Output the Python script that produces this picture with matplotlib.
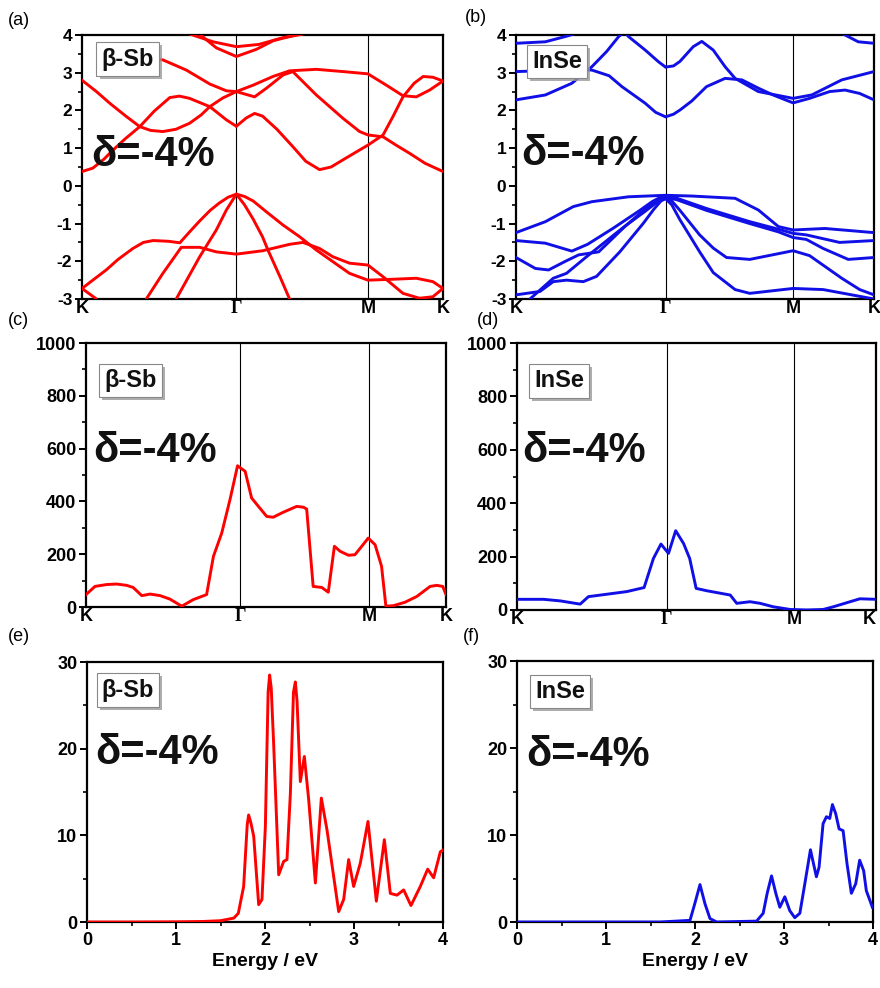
import matplotlib
matplotlib.use("Agg")
import matplotlib.pyplot as plt
import matplotlib.patheffects as pe
from matplotlib.ticker import MultipleLocator

plt.rcParams['font.family'] = ['Liberation Sans', 'DejaVu Sans']
plt.rcParams['font.weight'] = 'bold'
plt.rcParams['axes.unicode_minus'] = False

RED = '#ff0000'
BLUE = '#1010e6'

# ---------------- high-symmetry path positions (fraction of path) ----------
hs_labels = ['K', 'Γ', 'M', 'K']
hs_sb = [0.0, 0.4275, 0.792, 1.0]
hs_in = [0.0, 0.4177, 0.774, 1.0]
hs_sb_ph = [0.0, 0.4278, 0.787, 1.0]
hs_in_ph = [0.0, 0.4174, 0.772, 1.0]

# ---------------- (a) beta-Sb band structure: (k, E) ----------------------
sb_t = [(0.13, 3.42), (0.224, 3.34), (0.289, 3.07), (0.354, 2.70), (0.40, 2.52), (0.4275, 2.50)]
sb_x = [(0.0, 2.80), (0.04, 2.50), (0.077, 2.19), (0.12, 1.86), (0.16, 1.57), (0.19, 1.47),
        (0.224, 1.44), (0.26, 1.50), (0.298, 1.66), (0.33, 1.88), (0.354, 2.10), (0.39, 2.33),
        (0.4275, 2.50)]
sb_y_l = [(0.0, 0.38), (0.03, 0.47), (0.06, 0.70), (0.086, 0.95), (0.12, 1.25), (0.16, 1.57),
          (0.20, 1.98), (0.243, 2.34), (0.27, 2.38), (0.298, 2.32), (0.354, 2.10), (0.40, 1.75),
          (0.4275, 1.58)]
sb_y_r = [(0.4275, 1.58), (0.455, 1.80), (0.478, 1.92), (0.50, 1.85), (0.54, 1.50), (0.584, 1.04),
          (0.62, 0.65), (0.658, 0.43), (0.69, 0.50), (0.723, 0.69), (0.76, 0.90), (0.792, 1.08),
          (0.834, 1.35), (0.861, 1.83), (0.889, 2.36), (0.92, 2.72), (0.945, 2.90), (0.972, 2.88),
          (1.0, 2.78)]
sb_p = [(0.4275, 2.50), (0.474, 2.67), (0.529, 2.90), (0.575, 3.05), (0.649, 3.09), (0.723, 3.03),
        (0.792, 2.97), (0.843, 2.67), (0.889, 2.39), (0.926, 2.36), (0.963, 2.54), (1.0, 2.78)]
sb_q = [(0.4275, 2.50), (0.478, 2.36), (0.511, 2.59), (0.557, 2.94), (0.584, 3.03), (0.649, 2.41),
        (0.723, 1.79), (0.769, 1.44), (0.792, 1.35), (0.834, 1.30), (0.87, 1.08), (0.908, 0.86),
        (0.95, 0.60), (1.0, 0.38)]
sb_u1 = [(0.30, 4.02), (0.363, 3.82), (0.4275, 3.69), (0.49, 3.75), (0.557, 3.93), (0.61, 4.02)]
sb_u2 = [(0.326, 4.02), (0.372, 3.66), (0.4275, 3.43), (0.483, 3.62), (0.53, 3.85), (0.60, 4.02)]
sb_v1_l = [(0.0, -2.72), (0.03, -2.50), (0.067, -2.23), (0.10, -1.95), (0.141, -1.66), (0.17, -1.50),
           (0.197, -1.45), (0.24, -1.47), (0.271, -1.51), (0.30, -1.20), (0.326, -0.93),
           (0.355, -0.65), (0.381, -0.45), (0.405, -0.30), (0.4275, -0.22)]
sb_v1_r = [(0.4275, -0.22), (0.45, -0.28), (0.474, -0.40), (0.511, -0.69), (0.557, -1.04),
           (0.603, -1.35), (0.649, -1.70), (0.695, -2.01), (0.741, -2.32), (0.792, -2.50),
           (0.852, -2.48), (0.926, -2.45), (0.972, -2.54), (1.0, -2.72)]
sb_v2 = [(0.178, -3.0), (0.224, -2.32), (0.275, -1.63), (0.326, -1.63), (0.372, -1.75),
         (0.4275, -1.81), (0.501, -1.72), (0.575, -1.55), (0.612, -1.50), (0.658, -1.66),
         (0.695, -1.88), (0.741, -2.05), (0.792, -2.10), (0.834, -2.41), (0.889, -2.85),
         (0.935, -2.98), (0.972, -2.94), (1.0, -2.72)]
sb_v4 = [(0.4275, -0.22), (0.45, -0.50), (0.474, -0.88), (0.50, -1.35), (0.515, -1.70),
         (0.548, -2.40), (0.575, -3.0)]
sb_v5 = [(0.4275, -0.22), (0.40, -0.64), (0.372, -1.17), (0.326, -1.88), (0.261, -3.0)]
sb_v7 = [(0.0, -2.72), (0.04, -3.0)]
sb_bands = [sb_t, sb_x, sb_y_l, sb_y_r, sb_p, sb_q, sb_u1, sb_u2, sb_v1_l, sb_v1_r, sb_v2,
            sb_v4, sb_v5, sb_v7]

# ---------------- (b) InSe band structure: (k, E) --------------------------
in_c4_l = [(0.0, 3.78), (0.082, 3.82), (0.138, 3.96), (0.16, 4.02)]
in_c4_r = [(0.915, 4.02), (0.956, 3.82), (1.0, 3.78)]
in_c1_l = [(0.0, 2.28), (0.082, 2.41), (0.156, 2.72), (0.212, 3.16), (0.253, 3.56), (0.287, 3.96),
           (0.295, 4.02)]
in_c3_l = [(0.0, 3.03), (0.067, 3.05), (0.141, 3.08), (0.212, 3.07), (0.26, 2.92), (0.296, 2.63),
           (0.33, 2.40), (0.361, 2.19), (0.39, 1.95), (0.4177, 1.83)]
in_c2_l = [(0.309, 4.02), (0.314, 3.96), (0.361, 3.60), (0.398, 3.29), (0.4177, 3.15)]
in_c2_r = [(0.4177, 3.15), (0.44, 3.18), (0.458, 3.30), (0.495, 3.69), (0.519, 3.83), (0.551, 3.60),
           (0.584, 3.16), (0.612, 2.85), (0.677, 2.50), (0.774, 2.32), (0.826, 2.41), (0.910, 2.81),
           (1.0, 3.03)]
in_c1_r = [(0.4177, 1.83), (0.44, 1.90), (0.458, 2.01), (0.491, 2.25), (0.532, 2.63), (0.584, 2.85),
           (0.631, 2.81), (0.677, 2.59), (0.718, 2.41), (0.774, 2.20), (0.82, 2.32), (0.876, 2.50),
           (0.919, 2.54), (0.96, 2.45), (1.0, 2.28)]
in_v1 = [(0.0, -1.24), (0.082, -0.95), (0.16, -0.55), (0.212, -0.42), (0.314, -0.29),
         (0.4177, -0.25), (0.491, -0.27), (0.612, -0.33), (0.677, -0.64), (0.733, -1.08),
         (0.774, -1.17), (0.863, -1.13), (1.0, -1.24)]
in_v2_l = [(0.0, -1.45), (0.082, -1.52), (0.156, -1.73), (0.20, -1.55), (0.272, -1.12),
           (0.346, -0.65), (0.38, -0.42), (0.40, -0.32), (0.4177, -0.28)]
in_v3_l = [(0.0, -1.90), (0.054, -2.19), (0.091, -2.23), (0.138, -2.0), (0.175, -1.83),
           (0.231, -1.75), (0.305, -1.07), (0.35, -0.70), (0.38, -0.48), (0.40, -0.36),
           (0.4177, -0.32)]
in_v4_l = [(0.0, -2.89), (0.067, -2.80), (0.104, -2.54), (0.141, -2.50), (0.188, -2.54),
           (0.225, -2.40), (0.290, -1.75), (0.355, -1.00), (0.385, -0.62), (0.405, -0.40),
           (0.4177, -0.34)]
in_v5_l = [(0.039, -3.0), (0.104, -2.45), (0.141, -2.32), (0.197, -1.88), (0.30, -1.10),
           (0.36, -0.68), (0.39, -0.46), (0.4177, -0.32)]
in_v2_r = [(0.4177, -0.28), (0.45, -0.33), (0.532, -0.60), (0.653, -0.95), (0.733, -1.15),
           (0.774, -1.26), (0.811, -1.30), (0.904, -1.50), (1.0, -1.45)]
in_v3_r = [(0.4177, -0.30), (0.45, -0.37), (0.532, -0.65), (0.653, -1.0), (0.733, -1.22),
           (0.774, -1.37), (0.811, -1.42), (0.858, -1.66), (0.928, -1.95), (1.0, -1.90)]
in_v4_r = [(0.4177, -0.32), (0.435, -0.40), (0.458, -0.65), (0.513, -1.30), (0.551, -1.65),
           (0.588, -1.90), (0.653, -1.95), (0.774, -1.72), (0.82, -1.85), (0.91, -2.45),
           (0.96, -2.75), (1.0, -2.89)]
in_v5_r = [(0.4177, -0.34), (0.435, -0.50), (0.458, -0.90), (0.513, -1.75), (0.551, -2.30),
           (0.612, -2.75), (0.653, -2.85), (0.774, -2.72), (0.858, -2.75), (0.932, -2.88),
           (1.0, -3.0)]
in_bands = [in_c4_l, in_c4_r, in_c1_l, in_c3_l, in_c2_l, in_c2_r, in_c1_r, in_v1, in_v2_l,
            in_v3_l, in_v4_l, in_v5_l, in_v2_r, in_v3_r, in_v4_r, in_v5_r]

# ---------------- (c)/(d) phonon-limited quantity along path ----------------
sb_ph_k = [0.0, 0.025, 0.057, 0.085, 0.113, 0.131, 0.155, 0.178, 0.206, 0.233, 0.266, 0.298,
           0.335, 0.354, 0.377, 0.400, 0.421, 0.442, 0.460, 0.479, 0.502, 0.520, 0.548, 0.585,
           0.604, 0.613, 0.631, 0.655, 0.673, 0.690, 0.706, 0.729, 0.747, 0.766, 0.784, 0.803,
           0.821, 0.833, 0.854, 0.886, 0.919, 0.956, 0.974, 0.991, 1.0]
sb_ph_v = [47, 78, 85, 87, 82, 74, 43, 49, 43, 30, 3, 28, 47, 192, 280, 407, 535, 514, 413, 381,
           343, 340, 359, 381, 378, 371, 78, 74, 56, 230, 211, 196, 198, 230, 261, 236, 154, 3, 5,
           18, 40, 78, 82, 78, 47]
in_ph_k = [0.0, 0.074, 0.121, 0.176, 0.199, 0.250, 0.306, 0.354, 0.380, 0.401, 0.422, 0.442,
           0.464, 0.481, 0.499, 0.529, 0.594, 0.612, 0.649, 0.677, 0.714, 0.761, 0.807, 0.853,
           0.881, 0.918, 0.955, 1.0]
in_ph_v = [40, 40, 34, 22, 50, 59, 69, 84, 193, 247, 212, 297, 249, 193, 81, 72, 56, 25, 31, 25,
           12, 2, 0, 2, 12, 27, 42, 40]

# ---------------- (e)/(f) absorption vs energy ------------------------------
sb_abs_E = [0, 0.5, 1.0, 1.3, 1.5, 1.65, 1.70, 1.76, 1.80, 1.816, 1.84, 1.873, 1.929, 1.966,
            2.004, 2.035, 2.052, 2.07, 2.097, 2.154, 2.21, 2.247, 2.285, 2.32, 2.341, 2.36,
            2.397, 2.442, 2.491, 2.566, 2.633, 2.697, 2.828, 2.884, 2.94, 2.996, 3.071, 3.157,
            3.251, 3.341, 3.408, 3.483, 3.558, 3.64, 3.745, 3.828, 3.895, 3.97, 4.0]
sb_abs_v = [0, 0, 0.02, 0.06, 0.15, 0.45, 1.0, 4.1, 11.2, 12.35, 11.5, 9.9, 2.0, 2.6,
            11.0, 26.5, 28.5, 27.0, 20.6, 5.45, 7.0, 7.2, 14.8, 26.5, 27.7, 25.5,
            16.2, 19.1, 14.1, 4.5, 14.3, 10.6, 1.2, 2.6, 7.2, 4.1, 6.8, 11.6,
            2.4, 9.5, 3.3, 3.1, 3.7, 1.9, 4.1, 6.1, 5.1, 8.1, 8.3]
in_abs_E = [0, 1.0, 1.607, 1.944, 2.0, 2.056, 2.112, 2.168, 2.243, 2.692, 2.766, 2.811, 2.86,
            2.908, 2.953, 3.009, 3.065, 3.121, 3.178, 3.234, 3.297, 3.364, 3.394, 3.439, 3.477,
            3.514, 3.544, 3.581, 3.619, 3.664, 3.708, 3.757, 3.806, 3.85, 3.895, 3.925, 3.993]
in_abs_v = [0, 0, 0, 0.19, 2.2, 4.3, 2.1, 0.4, 0, 0.1, 1.0, 3.3, 5.3, 3.3, 1.7, 2.9, 1.3, 0.5,
            1.0, 4.4, 8.3, 5.2, 6.3, 11.3, 12.1, 11.9, 13.5, 12.45, 10.7, 10.5, 6.7, 3.3, 4.4,
            7.1, 5.9, 3.6, 1.7]

materials = ['β-Sb', 'InSe']
strain_text = 'δ=-4%'
panel_tags = ['(a)', '(b)', '(c)', '(d)', '(e)', '(f)']

W, H = 880, 988
fig = plt.figure(figsize=(W / 100, H / 100), dpi=100)


def px_axes(l, t, r, b):
    return fig.add_axes([l / W, 1 - b / H, (r - l) / W, (b - t) / H])


ax_a = px_axes(82, 35, 443, 299)
ax_b = px_axes(516, 35, 874, 299)
ax_c = px_axes(86, 343, 446, 607)
ax_d = px_axes(517, 343, 876, 610)
ax_e = px_axes(87, 662, 443, 922)
ax_f = px_axes(517, 661, 873, 922)


def style(ax, fs=12):
    for s in ax.spines.values():
        s.set_linewidth(1.6)
    ax.tick_params(which='major', direction='out', length=5, width=1.4, labelsize=fs, pad=2)
    ax.tick_params(which='minor', direction='out', length=3, width=1.2)
    for lab in ax.get_yticklabels() + ax.get_xticklabels():
        lab.set_fontweight('bold')


def path_axis(ax, hs, fs=13, last_right=False):
    ax.set_xlim(0, 1)
    ax.set_xticks(hs)
    ax.set_xticklabels(hs_labels, fontsize=fs, fontweight='bold')
    ax.tick_params(axis='x', which='major', length=0, pad=1)
    labs = ax.get_xticklabels()
    labs[1].set_fontfamily('Liberation Serif')
    if last_right:
        labs[-1].set_horizontalalignment('right')
    for xv in hs[1:3]:
        ax.axvline(xv, color='black', lw=0.8, zorder=1)


def tag_box(ax, x, y, name):
    t = ax.text(x, y, name, transform=ax.transAxes, ha='center', va='center', fontsize=17,
                fontweight='bold', color='#111111', zorder=7,
                bbox=dict(boxstyle='square,pad=0.22', fc='white', ec='#888888', lw=0.8))
    t.get_bbox_patch().set_path_effects(
        [pe.SimplePatchShadow(offset=(2.2, -2.2), shadow_rgbFace='#9a9a9a', alpha=0.8),
         pe.Normal()])


def strain(ax, x, y):
    ax.text(x, y, strain_text, transform=ax.transAxes, ha='left', va='center', fontsize=30,
            fontweight='bold', color='#111111', zorder=7)


# ---- band structures
for ax, bands, col, hs in [(ax_a, sb_bands, RED, hs_sb), (ax_b, in_bands, BLUE, hs_in)]:
    for band in bands:
        ks = [p[0] for p in band]
        es = [p[1] for p in band]
        ax.plot(ks, es, color=col, lw=2.1, solid_joinstyle='round', solid_capstyle='round',
                zorder=3)
    ax.set_ylim(-3, 4)
    ax.yaxis.set_major_locator(MultipleLocator(1))
    ax.yaxis.set_minor_locator(MultipleLocator(0.5))
    style(ax, 12.5)
    path_axis(ax, hs)

# ---- phonon panels
for ax, ks, vs, col, hs, lr in [(ax_c, sb_ph_k, sb_ph_v, RED, hs_sb_ph, False),
                                (ax_d, in_ph_k, in_ph_v, BLUE, hs_in_ph, True)]:
    ax.plot(ks, vs, color=col, lw=2.1, solid_joinstyle='round', zorder=3)
    ax.set_ylim(0, 1000)
    ax.yaxis.set_major_locator(MultipleLocator(200))
    ax.yaxis.set_minor_locator(MultipleLocator(100))
    style(ax, 13)
    path_axis(ax, hs, last_right=lr)

# ---- absorption panels
for ax, es, vs, col in [(ax_e, sb_abs_E, sb_abs_v, RED), (ax_f, in_abs_E, in_abs_v, BLUE)]:
    ax.plot(es, vs, color=col, lw=2.1, solid_joinstyle='round', zorder=3)
    ax.set_xlim(0, 4)
    ax.set_ylim(0, 30)
    ax.xaxis.set_major_locator(MultipleLocator(1))
    ax.xaxis.set_minor_locator(MultipleLocator(0.5))
    ax.yaxis.set_major_locator(MultipleLocator(10))
    ax.yaxis.set_minor_locator(MultipleLocator(5))
    style(ax, 13)
    ax.set_xlabel('Energy / eV', fontsize=14, fontweight='bold', labelpad=3)

# ---- labels
tag_box(ax_a, 0.127, 0.909, materials[0])
tag_box(ax_b, 0.115, 0.900, materials[1])
tag_box(ax_c, 0.124, 0.858, materials[0])
tag_box(ax_d, 0.117, 0.858, materials[1])
tag_box(ax_e, 0.115, 0.892, materials[0])
tag_box(ax_f, 0.121, 0.883, materials[1])

strain(ax_a, 0.026, 0.545)
strain(ax_b, 0.015, 0.549)
strain(ax_c, 0.020, 0.590)
strain(ax_d, 0.015, 0.595)
strain(ax_e, 0.023, 0.650)
strain(ax_f, 0.026, 0.640)

tag_pos = [(8, 12), (465, 9), (8, 312), (477, 312), (8, 628), (463, 628)]
for tag, (x, y) in zip(panel_tags, tag_pos):
    fig.text(x / W, 1 - y / H, tag, ha='left', va='top', fontsize=13, fontweight='normal',
             color='black')

fig.savefig('out.png', dpi=100)
